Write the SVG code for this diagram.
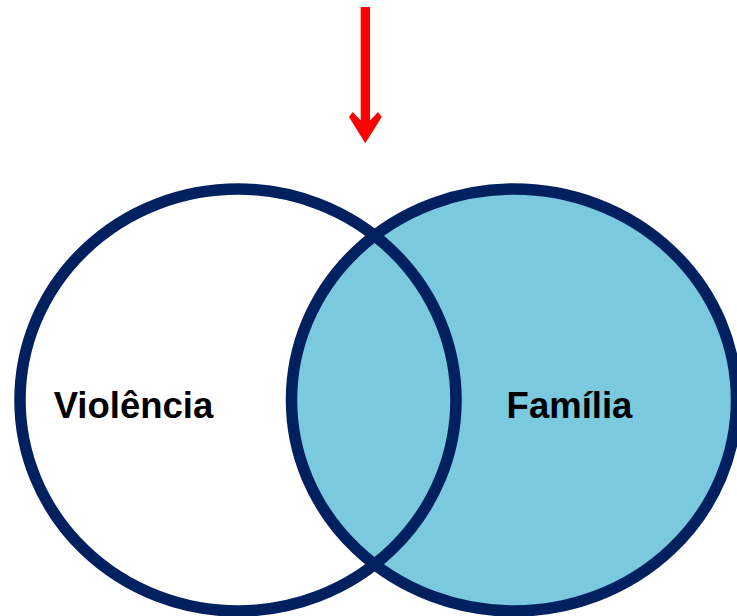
<svg xmlns="http://www.w3.org/2000/svg" width="737" height="616" viewBox="0 0 737 616">
  <style>
    .ring { stroke: #002060; stroke-width: 11.5; }
    .label { font-family: "Liberation Sans", Arial, sans-serif; font-weight: bold; font-size: 36.5px; fill: #000000; text-anchor: middle; }
  </style>
  <rect width="737" height="616" fill="#FFFFFF"/>
  <g id="familia">
    <ellipse class="ring" cx="514" cy="400" rx="222.5" ry="211" fill="#7AC9DF"/>
    <text class="label" x="569.5" y="418">Família</text>
  </g>
  <g id="violencia">
    <ellipse class="ring" cx="238" cy="400" rx="218" ry="211" fill="none"/>
    <text class="label" x="133.5" y="418">Violência</text>
  </g>
  <g id="connectors">
    <polygon fill="#FF0000" points="360.7,7 370,7 370,120.5 378,112 381.7,117 365.3,143.3 349,117 352.7,112 360.7,120.5"/>
  </g>
</svg>
